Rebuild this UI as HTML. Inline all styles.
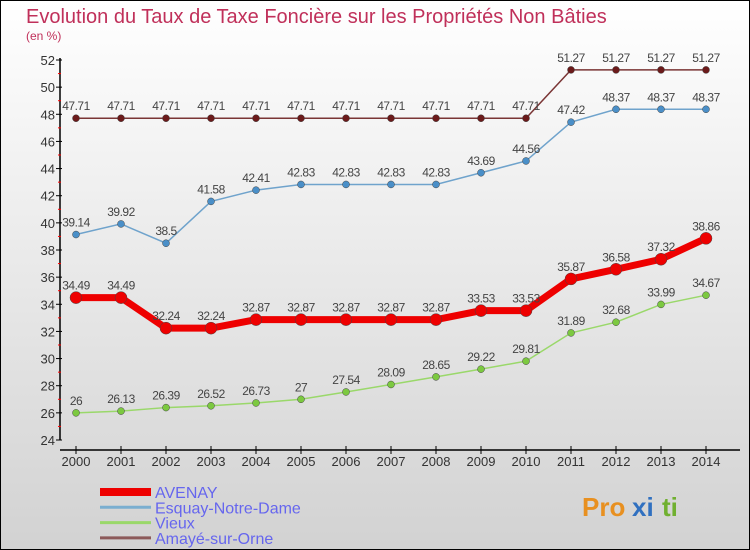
<!DOCTYPE html>
<html><head><meta charset="utf-8"><style>
body{margin:0}
#c{width:750px;height:550px;position:relative;box-sizing:border-box;border:1px solid #000;background:linear-gradient(#ffffff,#d2d2d2);font-family:"Liberation Sans","DejaVu Sans",sans-serif;overflow:hidden}
</style></head><body>
<div id="c">
<svg id="s" width="750" height="550" style="position:absolute;left:-1px;top:-1px"></svg>
</div>
<script>
const years=[2000,2001,2002,2003,2004,2005,2006,2007,2008,2009,2010,2011,2012,2013,2014];
const avenay=[34.49,34.49,32.24,32.24,32.87,32.87,32.87,32.87,32.87,33.53,33.53,35.87,36.58,37.32,38.86];
const esquay=[39.14,39.92,38.5,41.58,42.41,42.83,42.83,42.83,42.83,43.69,44.56,47.42,48.37,48.37,48.37];
const vieux=[26,26.13,26.39,26.52,26.73,27,27.54,28.09,28.65,29.22,29.81,31.89,32.68,33.99,34.67];
const amaye=[47.71,47.71,47.71,47.71,47.71,47.71,47.71,47.71,47.71,47.71,47.71,51.27,51.27,51.27,51.27];
const yTicks=[24,26,28,30,32,34,36,38,40,42,44,46,48,50,52];
const names=["AVENAY","Esquay-Notre-Dame","Vieux","Amayé-sur-Orne"];
const NS="http://www.w3.org/2000/svg",s=document.getElementById('s');
const X=i=>76+i*45, Y=v=>440-(v-24)*(380/28);
function el(t,a,txt){const e=document.createElementNS(NS,t);for(const k in a)e.setAttribute(k,a[k]);if(txt!==undefined)e.textContent=txt;s.appendChild(e);return e;}
let t=el('text',{x:26,y:23,'font-size':20,fill:'#c0305a'},'Evolution du Taux de Taxe Foncière sur les Propriétés Non Bâties');

t=el('text',{x:26,y:40,'font-size':12,fill:'#c0305a'},'(en %)');

let a=el('line',{x1:60,y1:58,x2:60,y2:440,stroke:'#000','stroke-width':1.5});

yTicks.forEach(v=>{el('line',{x1:56,x2:62,y1:Y(v),y2:Y(v),stroke:'#000'});
 if(v<52)el('line',{x1:58,x2:61,y1:Y(v+1),y2:Y(v+1),stroke:'#f00'});
 let l=el('text',{x:55,y:Y(v)+5,'font-size':13,fill:'#333','text-anchor':'end'},v);
 });
a=el('line',{x1:60,y1:450,x2:740,y2:450,stroke:'#000','stroke-width':1.5});

years.forEach((y,i)=>{el('line',{x1:X(i),x2:X(i),y1:446,y2:454,stroke:'#000'});
 let l=el('text',{x:X(i),y:466,'font-size':13,fill:'#333','text-anchor':'middle'},y);
 });
function series(d,col,w,r,dot,nm){
 let p=el('polyline',{points:d.map((v,i)=>X(i)+','+Y(v)).join(' '),fill:'none',stroke:col,'stroke-width':w});
 
 d.forEach((v,i)=>{let c=el('circle',{cx:X(i),cy:Y(v),r:r,fill:dot,stroke:'#444','stroke-width':0.5});
  
  let l=el('text',{x:X(i),y:Y(v)-8,'font-size':12,fill:'#444','text-anchor':'middle','letter-spacing':'-0.5'},String(v));
  });
}
series(vieux,'#9ad86a',1.5,3.5,'#7cc940','vieux');
series(esquay,'#6fa3cc',1.5,3.5,'#4a8fc8','esquay');
series(amaye,'#7a3535',1.5,3.5,'#6b1a1a','amaye');
series(avenay,'#ee0000',7,6,'#ee0000','avenay');
const lc=['#ee0000','#7aaed0','#9ad86a','#8c5a5a'],lw=[8,3,3,3];
names.forEach((n,i)=>{const y=492+i*15.3;
 let l=el('line',{x1:100,x2:151,y1:y,y2:y,stroke:lc[i],'stroke-width':lw[i]});
 
 let tx=el('text',{x:155,y:y+6,'font-size':16,fill:'#6666ee'},n);
 });
t=el('text',{x:582,y:516,'font-size':26,'font-weight':'bold',fill:'#e89020'},'Pro');

el('text',{x:632,y:516,'font-size':26,'font-weight':'bold',fill:'#3070c0'},'xi');
el('text',{x:662,y:516,'font-size':26,'font-weight':'bold',fill:'#70b030'},'ti');
</script>
</body></html>
